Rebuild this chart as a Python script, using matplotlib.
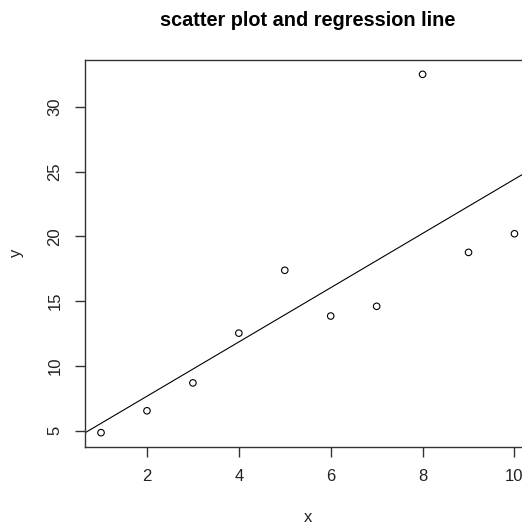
import numpy as np
import matplotlib
matplotlib.use("Agg")
import matplotlib.pyplot as plt

plt.rcParams['font.family'] = ['Liberation Sans', 'DejaVu Sans']

# data
x = np.array([1, 2, 3, 4, 5, 6, 7, 8, 9, 10])
y = np.array([4.85, 6.54, 8.69, 12.53, 17.38, 13.85, 14.6, 32.5, 18.76, 20.2])
xticks = [2, 4, 6, 8, 10]
yticks = [5, 10, 15, 20, 25, 30]

fig = plt.figure(figsize=(5.22, 5.24), dpi=100)
# right edge of the plot box lies outside the picture, as in the reference
ax = fig.add_axes([84.5 / 522, 77 / 524, 446.5 / 522, 387 / 524])

# R style range: data range extended by 4% on each side
def r_lim(v):
    d = v.max() - v.min()
    return v.min() - 0.04 * d, v.max() + 0.04 * d

ax.set_xlim(*r_lim(x))
ax.set_ylim(*r_lim(y))

ax.scatter(x, y, s=22, facecolors='none', edgecolors='black', linewidths=0.8, zorder=3)

# least squares line, like abline(lm(y ~ x))
slope, intercept = np.polyfit(x, y, 1)
xl = np.array(ax.get_xlim())
ax.plot(xl, intercept + slope * xl, color='black', linewidth=0.8)

ax.set_xticks(xticks)
ax.set_yticks(yticks)
ax.tick_params(axis='both', direction='out', length=7, width=1, color='#333333',
               labelsize=12, labelcolor='#222222')
ax.tick_params(axis='x', pad=9)
ax.tick_params(axis='y', pad=9)
for lab in ax.get_yticklabels():
    lab.set_rotation(90)
    lab.set_va('center')

for s in ax.spines.values():
    s.set_color('#333333')
    s.set_linewidth(1)

fig.text(307.5 / 522, 1 - 20 / 524, 'scatter plot and regression line',
         ha='center', va='center', fontsize=14.3, fontweight='bold')
fig.text(308 / 522, 1 - 517 / 524, 'x', ha='center', va='center', fontsize=12, color='#222222')
fig.text(17 / 522, 1 - 253 / 524, 'y', ha='center', va='center', fontsize=12,
         rotation=90, color='#222222')

fig.savefig('out.png', dpi=100)
